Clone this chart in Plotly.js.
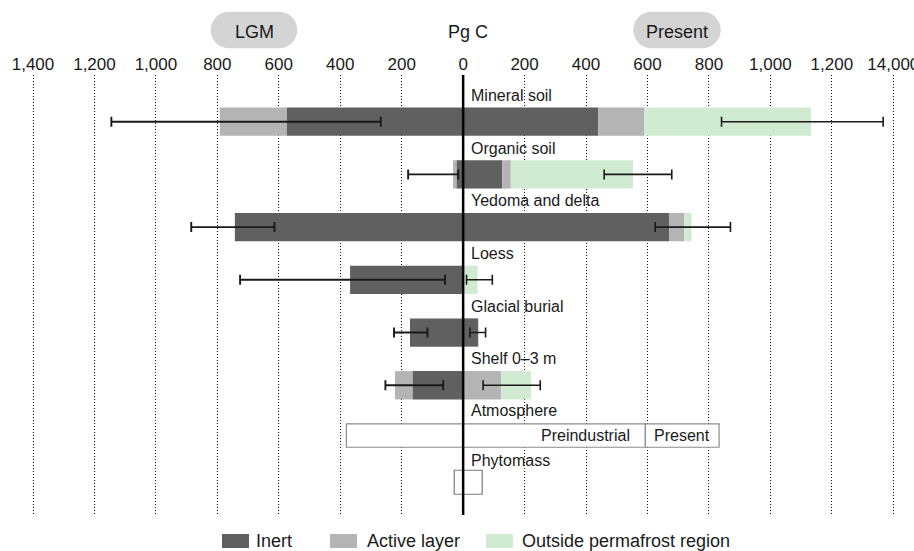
<!DOCTYPE html>
<html>
<head>
<meta charset="utf-8">
<script src="https://cdn.plot.ly/plotly-3.0.1.min.js"></script>
<style>html,body{margin:0;padding:0;background:#fff;}#chart{width:914px;height:551px;}</style>
</head>
<body>
<div id="chart"></div>
<script>
// ---- data (Pg C) ----
const categories = ['Mineral soil', 'Organic soil', 'Yedoma and delta', 'Loess', 'Glacial burial', 'Shelf 0–3 m'];
const extraCategories = ['Atmosphere', 'Phytomass'];

const lgmInert   = [575, 22, 743, 368, 173, 165];
const lgmActive  = [217, 11, 0, 0, 0, 57];
const presentInert   = [440, 127, 671, 0, 49, 0];
const presentActive  = [150, 28, 49, 0, 0, 123];
const presentOutside = [542, 398, 23, 47, 0, 98];

const lgmErrLow  = [268, 16, 614, 59, 116, 65];
const lgmErrHigh = [1145, 179, 885, 726, 225, 253];
const presentErrLow  = [841, 459, 625, 11, 22, 65];
const presentErrHigh = [1367, 679, 870, 95, 73, 251];

const atmLgm = 380, atmPreindustrial = 593, atmPresent = 833;
const phytoLgm = 29, phytoPresent = 62;

const tickValues = [-1400, -1200, -1000, -800, -600, -400, -200, 0, 200, 400, 600, 800, 1000, 1200, 1400];
const tickLabels = ['1,400', '1,200', '1,000', '800', '600', '400', '200', '0', '200', '400', '600', '800', '1,000', '1,200', '14,000'];

const legendLabels = ['Inert', 'Active layer', 'Outside permafrost region'];

// ---- styling ----
const FONT = 'Liberation Sans, Arial, Helvetica, sans-serif';
const cInert = '#606060', cActive = '#b4b4b4', cOutside = '#d0ebd1';
const BW = 0.537;
const W = 914, PT = 75, PB = 515;
const px2x = p => p / W;
const px2y = p => (PB - p) / (PB - PT);

const neg = a => a.map(v => -v);
const add = (a, b) => a.map((v, i) => v + b[i]);
const lgmTotal = add(lgmInert, lgmActive);
const presentTotal = add(add(presentInert, presentActive), presentOutside);

function hbar(x, color, name) {
  return {type: 'bar', orientation: 'h', y: categories, x: x, width: BW, name: name,
    marker: {color: color, line: {width: 0}}, showlegend: false, hoverinfo: 'skip'};
}

const traces = [
  hbar(neg(lgmInert), cInert, legendLabels[0]),
  hbar(presentInert, cInert, legendLabels[0]),
  hbar(neg(lgmActive), cActive, legendLabels[1]),
  hbar(presentActive, cActive, legendLabels[1]),
  hbar(presentOutside, cOutside, legendLabels[2]),
  // atmosphere boxes
  {type: 'bar', orientation: 'h', y: [extraCategories[0], extraCategories[0]],
   base: [-atmLgm, atmPreindustrial], x: [atmLgm + atmPreindustrial, atmPresent - atmPreindustrial],
   width: 0.442, offset: -0.265,
   marker: {color: 'rgba(255,255,255,1)', line: {color: '#8c8c8c', width: 1.2}}, showlegend: false, hoverinfo: 'skip'},
  // phytomass box
  {type: 'bar', orientation: 'h', y: [extraCategories[1]],
   base: [-phytoLgm], x: [phytoLgm + phytoPresent],
   width: 0.455, offset: -0.387,
   marker: {color: 'rgba(255,255,255,0)', line: {color: '#7a7a7a', width: 1.2}}, showlegend: false, hoverinfo: 'skip'},
  // error bars LGM
  {type: 'scatter', mode: 'markers', y: categories, x: neg(lgmTotal),
   marker: {size: 1, opacity: 0}, showlegend: false, hoverinfo: 'skip',
   error_x: {type: 'data', symmetric: false,
     array: lgmTotal.map((t, i) => t - lgmErrLow[i]),
     arrayminus: lgmTotal.map((t, i) => lgmErrHigh[i] - t),
     color: '#1a1a1a', thickness: 1.9, width: 5}},
  // error bars present
  {type: 'scatter', mode: 'markers', y: categories, x: presentTotal,
   marker: {size: 1, opacity: 0}, showlegend: false, hoverinfo: 'skip',
   error_x: {type: 'data', symmetric: false,
     array: presentTotal.map((t, i) => presentErrHigh[i] - t),
     arrayminus: presentTotal.map((t, i) => t - presentErrLow[i]),
     color: '#1a1a1a', thickness: 1.6, width: 5}}
];

function pill(x0, y0, x1, y1) {
  const r = (y1 - y0) / 2, k = 0.5523 * r;
  const P = (x, y) => px2x(x).toFixed(5) + ',' + px2y(y).toFixed(5);
  return 'M' + P(x0 + r, y0) + ' L' + P(x1 - r, y0) +
    ' C' + P(x1 - r + k, y0) + ' ' + P(x1, y0 + r - k) + ' ' + P(x1, y0 + r) +
    ' C' + P(x1, y0 + r + k) + ' ' + P(x1 - r + k, y1) + ' ' + P(x1 - r, y1) +
    ' L' + P(x0 + r, y1) +
    ' C' + P(x0 + r - k, y1) + ' ' + P(x0, y0 + r + k) + ' ' + P(x0, y0 + r) +
    ' C' + P(x0, y0 + r - k) + ' ' + P(x0 + r - k, y0) + ' ' + P(x0 + r, y0) + ' Z';
}

const shapes = [
  {type: 'path', xref: 'paper', yref: 'paper', path: pill(210.7, 11.7, 297.3, 48.3), fillcolor: '#d4d4d4', line: {width: 0}},
  {type: 'path', xref: 'paper', yref: 'paper', path: pill(633.3, 11.7, 720.7, 48.3), fillcolor: '#d4d4d4', line: {width: 0}},
  {type: 'line', xref: 'x', yref: 'paper', x0: 0, x1: 0, y0: 0, y1: 1, layer: 'above', line: {color: '#000', width: 2.5}}
];

// legend swatches
const legendColors = [cInert, cActive, cOutside];
const swatchX = [222, 330, 486];
swatchX.forEach((sx, i) => {
  shapes.push({type: 'rect', xref: 'paper', yref: 'paper', x0: px2x(sx), x1: px2x(sx + 27),
    y0: px2y(548), y1: px2y(534), fillcolor: legendColors[i], line: {width: 0}});
});

const txt = '#1a1a1a';
const annotations = [
  {xref: 'paper', yref: 'paper', x: px2x(254), y: px2y(32.5), text: 'LGM', showarrow: false, xanchor: 'center', yanchor: 'middle', font: {size: 18, color: txt}},
  {xref: 'paper', yref: 'paper', x: px2x(677), y: px2y(32.5), text: 'Present', showarrow: false, xanchor: 'center', yanchor: 'middle', font: {size: 18, color: txt}},
  {xref: 'paper', yref: 'paper', x: px2x(467.5), y: px2y(32.5), text: 'Pg C', showarrow: false, xanchor: 'center', yanchor: 'middle', font: {size: 18, color: txt}},
  {xref: 'x', yref: 'y', x: atmPreindustrial, y: 6, yshift: 2.3, xshift: -13, text: 'Preindustrial', showarrow: false, xanchor: 'right', yanchor: 'middle', font: {size: 16, color: txt}},
  {xref: 'x', yref: 'y', x: (atmPreindustrial + atmPresent) / 2, y: 6, yshift: 2.3, text: 'Present', showarrow: false, xanchor: 'center', yanchor: 'middle', font: {size: 16, color: txt}}
];
categories.concat(extraCategories).forEach((c, i) => {
  annotations.push({xref: 'x', yref: 'y', x: 0, xshift: 6, y: i - 0.5, yshift: (i === 7 ? 4 : (i === 6 ? 1 : 0)),
    text: c, showarrow: false, xanchor: 'left', yanchor: 'middle', font: {size: 16, color: txt}});
});
const legendTextX = [254, 365, 520];
legendLabels.forEach((l, i) => {
  annotations.push({xref: 'paper', yref: 'paper', x: px2x(legendTextX[i]), y: px2y(541), text: l, showarrow: false,
    xanchor: 'left', yanchor: 'middle', font: {size: 18, color: txt}});
});

const layout = {
  width: 914, height: 551,
  margin: {l: 0, r: 0, t: PT, b: 551 - PB, pad: 0},
  paper_bgcolor: '#fff', plot_bgcolor: '#fff',
  font: {family: FONT, color: txt},
  barmode: 'relative',
  showlegend: false,
  hovermode: false,
  xaxis: {
    range: [-1507.4, 1467.4], side: 'top', tickmode: 'array', tickvals: tickValues, ticktext: tickLabels,
    tickfont: {size: 17, color: txt}, ticks: '', ticklabeloverflow: 'allow', ticklabelstandoff: 1,
    showline: false, zeroline: false,
    showgrid: true, gridcolor: '#111', gridwidth: 1, griddash: '1px,2px', fixedrange: true, automargin: false
  },
  yaxis: {
    type: 'category', categoryorder: 'array', categoryarray: categories.concat(extraCategories),
    range: [7.462, -0.886], showticklabels: false, showgrid: false, zeroline: false, showline: false, ticks: '',
    fixedrange: true, automargin: false
  },
  shapes: shapes,
  annotations: annotations
};

Plotly.newPlot('chart', traces, layout, {displayModeBar: false, staticPlot: true});
</script>
</body>
</html>
